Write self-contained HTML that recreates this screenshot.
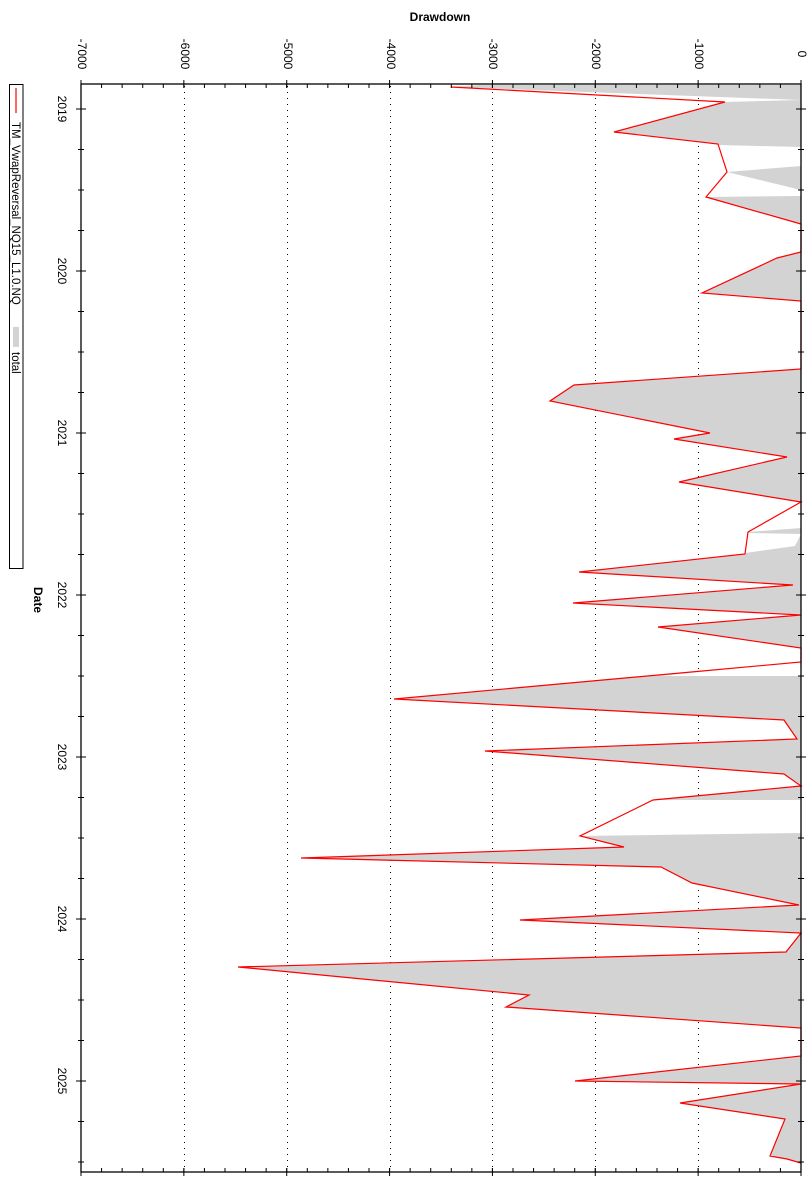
<!DOCTYPE html>
<html><head><meta charset="utf-8"><style>html,body{margin:0;padding:0;background:#fff}svg{display:block}</style></head>
<body>
<svg width="812" height="1200" viewBox="0 0 812 1200" xmlns="http://www.w3.org/2000/svg" font-family="Liberation Sans, sans-serif">
<rect width="812" height="1200" fill="#fff"/>
<!-- grid -->
<g stroke="#000" stroke-width="1" stroke-dasharray="1 5">
<line x1="184.5" y1="86" x2="184.5" y2="1172"/>
<line x1="287.5" y1="86" x2="287.5" y2="1172"/>
<line x1="390.5" y1="86" x2="390.5" y2="1172"/>
<line x1="492.5" y1="86" x2="492.5" y2="1172"/>
<line x1="595.5" y1="86" x2="595.5" y2="1172"/>
<line x1="698.5" y1="86" x2="698.5" y2="1172"/>
</g>
<!-- gray fill -->
<polygon fill="#d3d3d3" points="801,85 480,85 451,87 801,100 725,102 614,132 718,144 727,172 706,197 801,224 801,252 777,258 702,293 801,301 801,369 574,385 550,401 710,433 674,439 787,457 679,482 801,502 748,532 745,554 579,572 793,585 573,603 801,615 658,627 801,648 801,662 394,699 784,720 797,739 485,751 784,774 801,786 653,800 580,836 624,847 301,858 661,867 692,883 799,905 520,920 801,933 786,952 238,967 529,995 506,1007 801,1028 801,1056 575,1081 801,1084 680,1103 785,1119 770,1156 787,1159 801,1163"/>
<g fill="#fff">
<polygon points="718,145 801,147 801,166 727,172"/>
<polygon points="727,172 801,190 801,196 706,197"/>
<polygon points="801,502 748,532 801,528"/>
<polygon points="748,533 745,553 795,546 801,534"/>
<polygon points="653,800 801,800 801,833 580,836"/>
<polygon points="800,662 660,676 801,676"/>
</g>
<!-- red line -->
<polyline fill="none" stroke="#f00" stroke-width="1.2" points="451,87 725,102 614,132 718,144 727,172 706,197 801,224 801,252 777,258 702,293 801,301 801,369 574,385 550,401 710,433 674,439 787,457 679,482 801,502 748,532 745,554 579,572 793,585 573,603 801,615 658,627 801,648 801,662 394,699 784,720 797,739 485,751 784,774 801,786 653,800 580,836 624,847 301,858 661,867 692,883 799,905 520,920 801,933 786,952 238,967 529,995 506,1007 801,1028 801,1056 575,1081 801,1084 680,1103 785,1119 770,1156 787,1159 801,1163"/>
<!-- frame -->
<rect x="81" y="84" width="720" height="1088" fill="none" stroke="#000" stroke-width="1.3"/>
<!-- ticks -->
<g stroke="#000">
<line x1="80.5" y1="86" x2="802" y2="86" stroke-width="4" stroke-dasharray="1 19.571"/>
<line x1="80.5" y1="1170" x2="802" y2="1170" stroke-width="4" stroke-dasharray="1 19.571"/>
<line x1="80.5" y1="84" x2="802" y2="84" stroke-width="8" stroke-dasharray="1 101.857"/>
<line x1="80.5" y1="1172" x2="802" y2="1172" stroke-width="8" stroke-dasharray="1 101.857"/>
<line x1="81" y1="108.5" x2="81" y2="1172" stroke-width="6" stroke-dasharray="1 39.5"/>
<line x1="801" y1="108.5" x2="801" y2="1172" stroke-width="6" stroke-dasharray="1 39.5"/>
<line x1="81" y1="108.5" x2="81" y2="1172" stroke-width="10" stroke-dasharray="1 161"/>
<line x1="801" y1="108.5" x2="801" y2="1172" stroke-width="10" stroke-dasharray="1 161"/>
</g>
<!-- labels -->
<text x="440" y="21" font-size="12" font-weight="bold" text-anchor="middle">Drawdown</text>
<g font-size="12" text-anchor="middle">
<text transform="translate(78,54) rotate(90)">-7000</text>
<text transform="translate(181,54) rotate(90)">-6000</text>
<text transform="translate(284,54) rotate(90)">-5000</text>
<text transform="translate(387,54) rotate(90)">-4000</text>
<text transform="translate(489,54) rotate(90)">-3000</text>
<text transform="translate(592,54) rotate(90)">-2000</text>
<text transform="translate(695,54) rotate(90)">-1000</text>
<text transform="translate(798,54) rotate(90)">0</text>
<text transform="translate(58,109) rotate(90)">2019</text>
<text transform="translate(58,271) rotate(90)">2020</text>
<text transform="translate(58,433) rotate(90)">2021</text>
<text transform="translate(58,595) rotate(90)">2022</text>
<text transform="translate(58,757) rotate(90)">2023</text>
<text transform="translate(58,919) rotate(90)">2024</text>
<text transform="translate(58,1081) rotate(90)">2025</text>
<text transform="translate(34,600) rotate(90)" font-weight="bold">Date</text>
</g>
<!-- legend -->
<rect x="9.5" y="84.5" width="13.5" height="484" fill="#fff" stroke="#000" stroke-width="1"/>
<line x1="16" y1="88" x2="16" y2="113" stroke="#f00" stroke-width="1.2"/>
<text transform="translate(12,122) rotate(90)" font-size="11.5">TM_VwapReversal_NQ15_L1.0.NQ</text>
<rect x="13" y="327" width="6" height="20" fill="#d3d3d3"/>
<text transform="translate(12,352) rotate(90)" font-size="11.5">total</text>
</svg>
</body></html>
